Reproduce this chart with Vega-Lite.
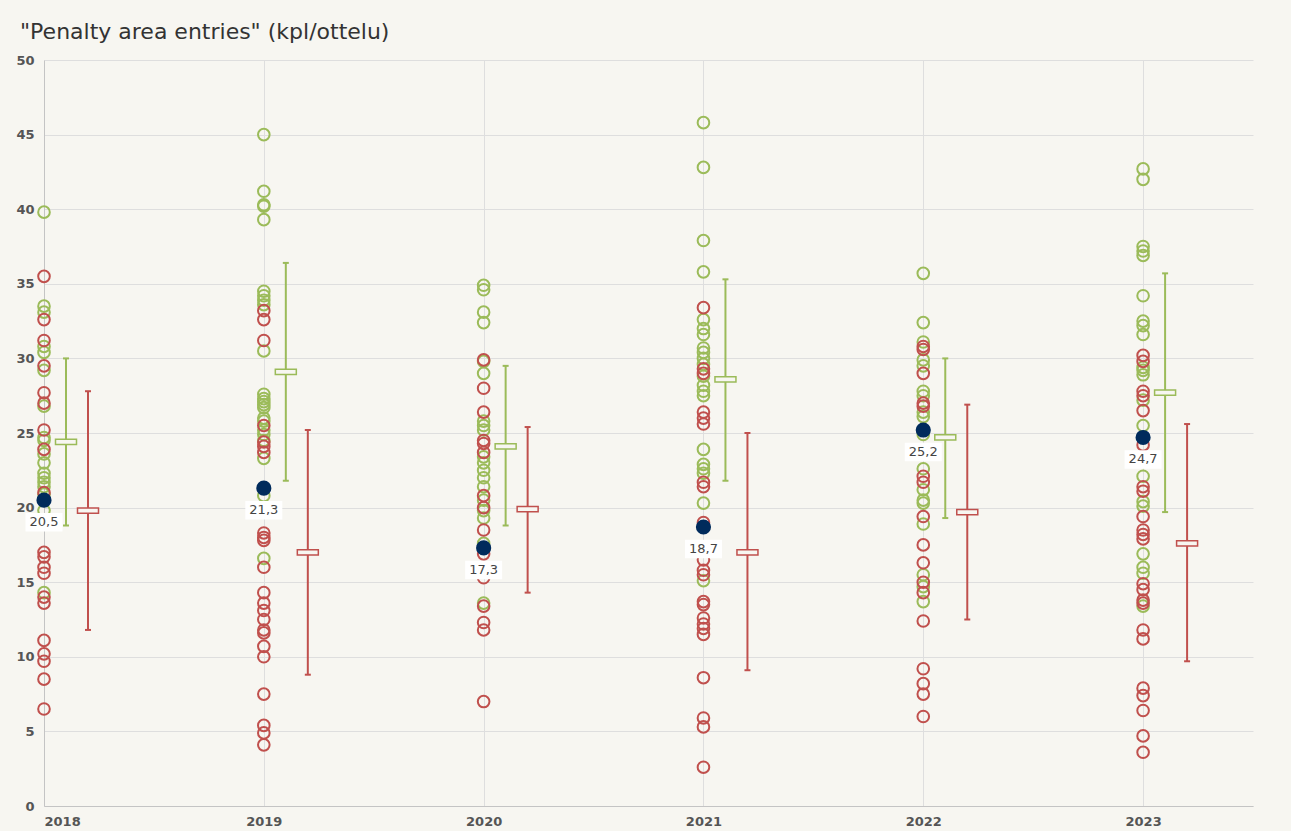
{
  "$schema": "https://vega.github.io/schema/vega-lite/v6.json",
  "autosize": "none",
  "width": 1209,
  "height": 746,
  "padding": {"left": 44, "top": 60, "right": 38, "bottom": 25},
  "background": "#f7f6f1",
  "title": {"text": "\"Penalty area entries\" (kpl/ottelu)", "anchor": "start", "frame": "group", "dx": -24, "offset": 10, "font": "DejaVu Sans", "fontSize": 22, "fontWeight": "normal", "color": "#333333"},
  "config": {"view": {"stroke": null}, "font": "DejaVu Sans"},
  "datasets": {
    "points": [
      {"year": 2018, "group": "vihreä", "v": 39.8}, {"year": 2018, "group": "vihreä", "v": 33.5}, {"year": 2018, "group": "vihreä", "v": 33.1}, {"year": 2018, "group": "vihreä", "v": 30.8}, {"year": 2018, "group": "vihreä", "v": 30.4}, {"year": 2018, "group": "vihreä", "v": 29.2}, {"year": 2018, "group": "vihreä", "v": 26.8}, {"year": 2018, "group": "vihreä", "v": 24.7}, {"year": 2018, "group": "vihreä", "v": 24.5}, {"year": 2018, "group": "vihreä", "v": 23.6}, {"year": 2018, "group": "vihreä", "v": 23.0}, {"year": 2018, "group": "vihreä", "v": 22.3}, {"year": 2018, "group": "vihreä", "v": 22.0}, {"year": 2018, "group": "vihreä", "v": 21.7}, {"year": 2018, "group": "vihreä", "v": 21.4}, {"year": 2018, "group": "vihreä", "v": 20.9}, {"year": 2018, "group": "vihreä", "v": 19.8}, {"year": 2018, "group": "vihreä", "v": 14.3},
      {"year": 2018, "group": "punainen", "v": 35.5}, {"year": 2018, "group": "punainen", "v": 32.6}, {"year": 2018, "group": "punainen", "v": 31.2}, {"year": 2018, "group": "punainen", "v": 29.5}, {"year": 2018, "group": "punainen", "v": 27.7}, {"year": 2018, "group": "punainen", "v": 27.0}, {"year": 2018, "group": "punainen", "v": 25.2}, {"year": 2018, "group": "punainen", "v": 23.9}, {"year": 2018, "group": "punainen", "v": 21.0}, {"year": 2018, "group": "punainen", "v": 17.0}, {"year": 2018, "group": "punainen", "v": 16.7}, {"year": 2018, "group": "punainen", "v": 16.0}, {"year": 2018, "group": "punainen", "v": 15.6}, {"year": 2018, "group": "punainen", "v": 14.0}, {"year": 2018, "group": "punainen", "v": 13.6}, {"year": 2018, "group": "punainen", "v": 11.1}, {"year": 2018, "group": "punainen", "v": 10.2}, {"year": 2018, "group": "punainen", "v": 9.7}, {"year": 2018, "group": "punainen", "v": 8.5}, {"year": 2018, "group": "punainen", "v": 6.5},
      {"year": 2019, "group": "vihreä", "v": 45.0}, {"year": 2019, "group": "vihreä", "v": 41.2}, {"year": 2019, "group": "vihreä", "v": 40.3}, {"year": 2019, "group": "vihreä", "v": 40.2}, {"year": 2019, "group": "vihreä", "v": 39.3}, {"year": 2019, "group": "vihreä", "v": 34.5}, {"year": 2019, "group": "vihreä", "v": 34.2}, {"year": 2019, "group": "vihreä", "v": 33.9}, {"year": 2019, "group": "vihreä", "v": 33.6}, {"year": 2019, "group": "vihreä", "v": 30.5}, {"year": 2019, "group": "vihreä", "v": 27.6}, {"year": 2019, "group": "vihreä", "v": 27.3}, {"year": 2019, "group": "vihreä", "v": 27.1}, {"year": 2019, "group": "vihreä", "v": 26.9}, {"year": 2019, "group": "vihreä", "v": 26.7}, {"year": 2019, "group": "vihreä", "v": 26.0}, {"year": 2019, "group": "vihreä", "v": 25.8}, {"year": 2019, "group": "vihreä", "v": 25.2}, {"year": 2019, "group": "vihreä", "v": 24.9}, {"year": 2019, "group": "vihreä", "v": 24.5}, {"year": 2019, "group": "vihreä", "v": 23.3}, {"year": 2019, "group": "vihreä", "v": 20.8}, {"year": 2019, "group": "vihreä", "v": 16.6},
      {"year": 2019, "group": "punainen", "v": 33.2}, {"year": 2019, "group": "punainen", "v": 32.6}, {"year": 2019, "group": "punainen", "v": 31.2}, {"year": 2019, "group": "punainen", "v": 25.5}, {"year": 2019, "group": "punainen", "v": 24.4}, {"year": 2019, "group": "punainen", "v": 24.1}, {"year": 2019, "group": "punainen", "v": 23.7}, {"year": 2019, "group": "punainen", "v": 18.3}, {"year": 2019, "group": "punainen", "v": 18.0}, {"year": 2019, "group": "punainen", "v": 17.8}, {"year": 2019, "group": "punainen", "v": 16.0}, {"year": 2019, "group": "punainen", "v": 14.3}, {"year": 2019, "group": "punainen", "v": 13.6}, {"year": 2019, "group": "punainen", "v": 13.1}, {"year": 2019, "group": "punainen", "v": 12.5}, {"year": 2019, "group": "punainen", "v": 11.8}, {"year": 2019, "group": "punainen", "v": 11.6}, {"year": 2019, "group": "punainen", "v": 10.7}, {"year": 2019, "group": "punainen", "v": 10.0}, {"year": 2019, "group": "punainen", "v": 7.5}, {"year": 2019, "group": "punainen", "v": 5.4}, {"year": 2019, "group": "punainen", "v": 4.9}, {"year": 2019, "group": "punainen", "v": 4.1},
      {"year": 2020, "group": "vihreä", "v": 34.9}, {"year": 2020, "group": "vihreä", "v": 34.6}, {"year": 2020, "group": "vihreä", "v": 33.1}, {"year": 2020, "group": "vihreä", "v": 32.4}, {"year": 2020, "group": "vihreä", "v": 29.8}, {"year": 2020, "group": "vihreä", "v": 29.0}, {"year": 2020, "group": "vihreä", "v": 25.8}, {"year": 2020, "group": "vihreä", "v": 25.5}, {"year": 2020, "group": "vihreä", "v": 25.2}, {"year": 2020, "group": "vihreä", "v": 23.4}, {"year": 2020, "group": "vihreä", "v": 23.0}, {"year": 2020, "group": "vihreä", "v": 22.5}, {"year": 2020, "group": "vihreä", "v": 22.0}, {"year": 2020, "group": "vihreä", "v": 21.4}, {"year": 2020, "group": "vihreä", "v": 20.5}, {"year": 2020, "group": "vihreä", "v": 19.8}, {"year": 2020, "group": "vihreä", "v": 19.3}, {"year": 2020, "group": "vihreä", "v": 17.6}, {"year": 2020, "group": "vihreä", "v": 13.6},
      {"year": 2020, "group": "punainen", "v": 29.9}, {"year": 2020, "group": "punainen", "v": 28.0}, {"year": 2020, "group": "punainen", "v": 26.4}, {"year": 2020, "group": "punainen", "v": 24.5}, {"year": 2020, "group": "punainen", "v": 24.3}, {"year": 2020, "group": "punainen", "v": 23.7}, {"year": 2020, "group": "punainen", "v": 20.8}, {"year": 2020, "group": "punainen", "v": 20.0}, {"year": 2020, "group": "punainen", "v": 18.5}, {"year": 2020, "group": "punainen", "v": 16.9}, {"year": 2020, "group": "punainen", "v": 15.3}, {"year": 2020, "group": "punainen", "v": 13.4}, {"year": 2020, "group": "punainen", "v": 12.3}, {"year": 2020, "group": "punainen", "v": 11.8}, {"year": 2020, "group": "punainen", "v": 7.0},
      {"year": 2021, "group": "vihreä", "v": 45.8}, {"year": 2021, "group": "vihreä", "v": 42.8}, {"year": 2021, "group": "vihreä", "v": 37.9}, {"year": 2021, "group": "vihreä", "v": 35.8}, {"year": 2021, "group": "vihreä", "v": 32.6}, {"year": 2021, "group": "vihreä", "v": 32.0}, {"year": 2021, "group": "vihreä", "v": 31.6}, {"year": 2021, "group": "vihreä", "v": 30.7}, {"year": 2021, "group": "vihreä", "v": 30.4}, {"year": 2021, "group": "vihreä", "v": 30.0}, {"year": 2021, "group": "vihreä", "v": 29.6}, {"year": 2021, "group": "vihreä", "v": 28.8}, {"year": 2021, "group": "vihreä", "v": 28.2}, {"year": 2021, "group": "vihreä", "v": 27.8}, {"year": 2021, "group": "vihreä", "v": 27.5}, {"year": 2021, "group": "vihreä", "v": 23.9}, {"year": 2021, "group": "vihreä", "v": 22.9}, {"year": 2021, "group": "vihreä", "v": 22.6}, {"year": 2021, "group": "vihreä", "v": 22.3}, {"year": 2021, "group": "vihreä", "v": 20.3}, {"year": 2021, "group": "vihreä", "v": 15.1},
      {"year": 2021, "group": "punainen", "v": 33.4}, {"year": 2021, "group": "punainen", "v": 29.3}, {"year": 2021, "group": "punainen", "v": 29.0}, {"year": 2021, "group": "punainen", "v": 26.4}, {"year": 2021, "group": "punainen", "v": 26.0}, {"year": 2021, "group": "punainen", "v": 25.6}, {"year": 2021, "group": "punainen", "v": 21.7}, {"year": 2021, "group": "punainen", "v": 21.4}, {"year": 2021, "group": "punainen", "v": 19.0}, {"year": 2021, "group": "punainen", "v": 16.5}, {"year": 2021, "group": "punainen", "v": 15.8}, {"year": 2021, "group": "punainen", "v": 15.5}, {"year": 2021, "group": "punainen", "v": 13.7}, {"year": 2021, "group": "punainen", "v": 13.5}, {"year": 2021, "group": "punainen", "v": 12.6}, {"year": 2021, "group": "punainen", "v": 12.2}, {"year": 2021, "group": "punainen", "v": 11.9}, {"year": 2021, "group": "punainen", "v": 11.5}, {"year": 2021, "group": "punainen", "v": 8.6}, {"year": 2021, "group": "punainen", "v": 5.9}, {"year": 2021, "group": "punainen", "v": 5.3}, {"year": 2021, "group": "punainen", "v": 2.6},
      {"year": 2022, "group": "vihreä", "v": 35.7}, {"year": 2022, "group": "vihreä", "v": 32.4}, {"year": 2022, "group": "vihreä", "v": 31.1}, {"year": 2022, "group": "vihreä", "v": 29.9}, {"year": 2022, "group": "vihreä", "v": 29.5}, {"year": 2022, "group": "vihreä", "v": 27.8}, {"year": 2022, "group": "vihreä", "v": 27.5}, {"year": 2022, "group": "vihreä", "v": 26.4}, {"year": 2022, "group": "vihreä", "v": 26.1}, {"year": 2022, "group": "vihreä", "v": 24.9}, {"year": 2022, "group": "vihreä", "v": 22.6}, {"year": 2022, "group": "vihreä", "v": 21.2}, {"year": 2022, "group": "vihreä", "v": 20.5}, {"year": 2022, "group": "vihreä", "v": 20.3}, {"year": 2022, "group": "vihreä", "v": 18.9}, {"year": 2022, "group": "vihreä", "v": 15.5}, {"year": 2022, "group": "vihreä", "v": 14.7}, {"year": 2022, "group": "vihreä", "v": 13.7},
      {"year": 2022, "group": "punainen", "v": 30.8}, {"year": 2022, "group": "punainen", "v": 30.6}, {"year": 2022, "group": "punainen", "v": 29.0}, {"year": 2022, "group": "punainen", "v": 27.0}, {"year": 2022, "group": "punainen", "v": 26.8}, {"year": 2022, "group": "punainen", "v": 22.1}, {"year": 2022, "group": "punainen", "v": 21.7}, {"year": 2022, "group": "punainen", "v": 19.4}, {"year": 2022, "group": "punainen", "v": 17.5}, {"year": 2022, "group": "punainen", "v": 16.3}, {"year": 2022, "group": "punainen", "v": 15.0}, {"year": 2022, "group": "punainen", "v": 14.3}, {"year": 2022, "group": "punainen", "v": 12.4}, {"year": 2022, "group": "punainen", "v": 9.2}, {"year": 2022, "group": "punainen", "v": 8.2}, {"year": 2022, "group": "punainen", "v": 7.5}, {"year": 2022, "group": "punainen", "v": 6.0},
      {"year": 2023, "group": "vihreä", "v": 42.7}, {"year": 2023, "group": "vihreä", "v": 42.0}, {"year": 2023, "group": "vihreä", "v": 37.5}, {"year": 2023, "group": "vihreä", "v": 37.2}, {"year": 2023, "group": "vihreä", "v": 36.9}, {"year": 2023, "group": "vihreä", "v": 34.2}, {"year": 2023, "group": "vihreä", "v": 32.5}, {"year": 2023, "group": "vihreä", "v": 32.2}, {"year": 2023, "group": "vihreä", "v": 31.6}, {"year": 2023, "group": "vihreä", "v": 29.4}, {"year": 2023, "group": "vihreä", "v": 29.2}, {"year": 2023, "group": "vihreä", "v": 28.9}, {"year": 2023, "group": "vihreä", "v": 27.2}, {"year": 2023, "group": "vihreä", "v": 25.5}, {"year": 2023, "group": "vihreä", "v": 22.1}, {"year": 2023, "group": "vihreä", "v": 20.4}, {"year": 2023, "group": "vihreä", "v": 20.1}, {"year": 2023, "group": "vihreä", "v": 16.9}, {"year": 2023, "group": "vihreä", "v": 16.0}, {"year": 2023, "group": "vihreä", "v": 15.6}, {"year": 2023, "group": "vihreä", "v": 13.4},
      {"year": 2023, "group": "punainen", "v": 30.2}, {"year": 2023, "group": "punainen", "v": 29.8}, {"year": 2023, "group": "punainen", "v": 27.8}, {"year": 2023, "group": "punainen", "v": 27.5}, {"year": 2023, "group": "punainen", "v": 26.5}, {"year": 2023, "group": "punainen", "v": 24.2}, {"year": 2023, "group": "punainen", "v": 21.4}, {"year": 2023, "group": "punainen", "v": 21.1}, {"year": 2023, "group": "punainen", "v": 19.4}, {"year": 2023, "group": "punainen", "v": 18.5}, {"year": 2023, "group": "punainen", "v": 18.2}, {"year": 2023, "group": "punainen", "v": 17.9}, {"year": 2023, "group": "punainen", "v": 14.9}, {"year": 2023, "group": "punainen", "v": 14.5}, {"year": 2023, "group": "punainen", "v": 13.8}, {"year": 2023, "group": "punainen", "v": 13.6}, {"year": 2023, "group": "punainen", "v": 11.8}, {"year": 2023, "group": "punainen", "v": 11.2}, {"year": 2023, "group": "punainen", "v": 7.9}, {"year": 2023, "group": "punainen", "v": 7.4}, {"year": 2023, "group": "punainen", "v": 6.4}, {"year": 2023, "group": "punainen", "v": 4.7}, {"year": 2023, "group": "punainen", "v": 3.6}
    ],
    "stats": [
      {"year": 2018, "group": "vihreä", "low": 18.8, "mean": 24.4, "high": 30.0},
      {"year": 2018, "group": "punainen", "low": 11.8, "mean": 19.8, "high": 27.8},
      {"year": 2019, "group": "vihreä", "low": 21.8, "mean": 29.1, "high": 36.4},
      {"year": 2019, "group": "punainen", "low": 8.8, "mean": 17.0, "high": 25.2},
      {"year": 2020, "group": "vihreä", "low": 18.8, "mean": 24.1, "high": 29.5},
      {"year": 2020, "group": "punainen", "low": 14.3, "mean": 19.9, "high": 25.4},
      {"year": 2021, "group": "vihreä", "low": 21.8, "mean": 28.6, "high": 35.3},
      {"year": 2021, "group": "punainen", "low": 9.1, "mean": 17.0, "high": 25.0},
      {"year": 2022, "group": "vihreä", "low": 19.3, "mean": 24.7, "high": 30.0},
      {"year": 2022, "group": "punainen", "low": 12.5, "mean": 19.7, "high": 26.9},
      {"year": 2023, "group": "vihreä", "low": 19.7, "mean": 27.7, "high": 35.7},
      {"year": 2023, "group": "punainen", "low": 9.7, "mean": 17.6, "high": 25.6}
    ],
    "avg": [
      {"year": 2018, "value": 20.5, "label": "20,5"},
      {"year": 2019, "value": 21.3, "label": "21,3"},
      {"year": 2020, "value": 17.3, "label": "17,3"},
      {"year": 2021, "value": 18.7, "label": "18,7"},
      {"year": 2022, "value": 25.2, "label": "25,2"},
      {"year": 2023, "value": 24.7, "label": "24,7"}
    ]
  },
  "layer": [
    {
      "data": {"name": "points"},
      "mark": {"type": "point", "filled": false, "strokeWidth": 2, "size": 135, "opacity": 1},
      "encoding": {
        "x": {"field": "year", "type": "quantitative", "title": null, "scale": {"domain": [2018, 2023.5], "nice": false, "zero": false},
          "axis": {"values": [2018, 2019, 2020, 2021, 2022, 2023], "format": "d", "grid": true, "gridColor": "#dedede", "domainColor": "#c4c4c4", "ticks": false, "labelFontWeight": "bold", "labelColor": "#555555", "labelFontSize": 13, "labelPadding": 9, "labelFont": "DejaVu Sans"}},
        "y": {"field": "v", "type": "quantitative", "title": null, "scale": {"domain": [0, 50], "nice": false},
          "axis": {"values": [0, 5, 10, 15, 20, 25, 30, 35, 40, 45, 50], "grid": true, "gridColor": "#dedede", "domainColor": "#c4c4c4", "ticks": false, "labelFontWeight": "bold", "labelColor": "#555555", "labelFontSize": 13, "labelPadding": 10, "labelFont": "DejaVu Sans"}},
        "color": {"field": "group", "type": "nominal", "scale": {"domain": ["vihreä", "punainen"], "range": ["#9bbb59", "#c0504d"]}, "legend": null}
      }
    },
    {
      "data": {"name": "stats"},
      "transform": [{"filter": "datum.group === 'vihreä'"}],
      "layer": [
        {"mark": {"type": "rule", "xOffset": 22, "strokeWidth": 2, "color": "#9bbb59"},
         "encoding": {"x": {"field": "year", "type": "quantitative", "title": null}, "y": {"field": "low", "type": "quantitative", "title": null}, "y2": {"field": "high"}}},
        {"mark": {"type": "point", "shape": "M-1,0H1", "size": 36, "xOffset": 22, "strokeWidth": 2, "filled": false, "color": "#9bbb59", "opacity": 1},
         "encoding": {"x": {"field": "year", "type": "quantitative", "title": null}, "y": {"field": "low", "type": "quantitative", "title": null}}},
        {"mark": {"type": "point", "shape": "M-1,0H1", "size": 36, "xOffset": 22, "strokeWidth": 2, "filled": false, "color": "#9bbb59", "opacity": 1},
         "encoding": {"x": {"field": "year", "type": "quantitative", "title": null}, "y": {"field": "high", "type": "quantitative", "title": null}}},
        {"mark": {"type": "point", "shape": "M-1,-0.25H1V0.25H-1Z", "size": 441, "xOffset": 22, "strokeWidth": 1.5, "filled": true, "fill": "#f7f6f1", "stroke": "#9bbb59", "opacity": 1, "fillOpacity": 1},
         "encoding": {"x": {"field": "year", "type": "quantitative", "title": null}, "y": {"field": "mean", "type": "quantitative", "title": null}}}
      ]
    },
    {
      "data": {"name": "stats"},
      "transform": [{"filter": "datum.group === 'punainen'"}],
      "layer": [
        {"mark": {"type": "rule", "xOffset": 44, "strokeWidth": 2, "color": "#c0504d"},
         "encoding": {"x": {"field": "year", "type": "quantitative", "title": null}, "y": {"field": "low", "type": "quantitative", "title": null}, "y2": {"field": "high"}}},
        {"mark": {"type": "point", "shape": "M-1,0H1", "size": 36, "xOffset": 44, "strokeWidth": 2, "filled": false, "color": "#c0504d", "opacity": 1},
         "encoding": {"x": {"field": "year", "type": "quantitative", "title": null}, "y": {"field": "low", "type": "quantitative", "title": null}}},
        {"mark": {"type": "point", "shape": "M-1,0H1", "size": 36, "xOffset": 44, "strokeWidth": 2, "filled": false, "color": "#c0504d", "opacity": 1},
         "encoding": {"x": {"field": "year", "type": "quantitative", "title": null}, "y": {"field": "high", "type": "quantitative", "title": null}}},
        {"mark": {"type": "point", "shape": "M-1,-0.25H1V0.25H-1Z", "size": 441, "xOffset": 44, "strokeWidth": 1.5, "filled": true, "fill": "#f7f6f1", "stroke": "#c0504d", "opacity": 1, "fillOpacity": 1},
         "encoding": {"x": {"field": "year", "type": "quantitative", "title": null}, "y": {"field": "mean", "type": "quantitative", "title": null}}}
      ]
    },
    {
      "data": {"name": "avg"},
      "layer": [
        {"mark": {"type": "point", "filled": true, "size": 230, "color": "#002b5c", "opacity": 1},
         "encoding": {"x": {"field": "year", "type": "quantitative", "title": null}, "y": {"field": "value", "type": "quantitative", "title": null}}},
        {"mark": {"type": "point", "shape": "M-1,-0.5H1V0.5H-1Z", "size": 1369, "yOffset": 22, "filled": true, "color": "#ffffff", "opacity": 1, "strokeWidth": 0},
         "encoding": {"x": {"field": "year", "type": "quantitative", "title": null}, "y": {"field": "value", "type": "quantitative", "title": null}}},
        {"mark": {"type": "text", "yOffset": 22, "fontSize": 13, "color": "#444444", "font": "DejaVu Sans", "baseline": "middle", "align": "center"},
         "encoding": {"x": {"field": "year", "type": "quantitative", "title": null}, "y": {"field": "value", "type": "quantitative", "title": null}, "text": {"field": "label"}}}
      ]
    }
  ]
}
